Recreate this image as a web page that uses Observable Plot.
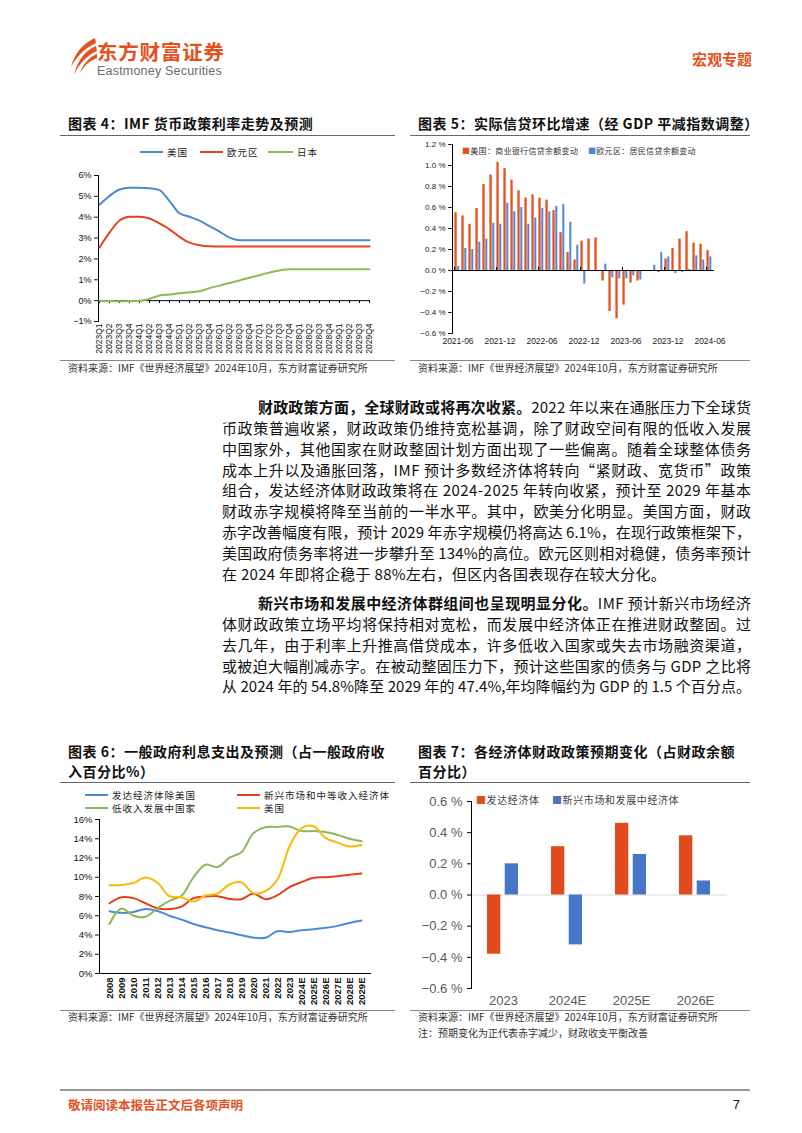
<!DOCTYPE html>
<html><head><meta charset="utf-8">
<script src="https://cdn.jsdelivr.net/npm/d3@7"></script>
<script src="https://cdn.jsdelivr.net/npm/@observablehq/plot@0.6"></script>
<style>
html,body{margin:0;padding:0;background:#fff;}
#page{position:relative;width:802px;height:1133px;overflow:hidden;background:#fff;font-family:"Noto Sans CJK SC","Liberation Sans",sans-serif;color:#000;}
.abs{position:absolute;white-space:nowrap;}
</style></head><body><div id="page"></div>
<script>
// ---------------- DATA ----------------
// Chart 4: IMF policy rate forecasts (%)
const quarters = ["2023Q1","2023Q2","2023Q3","2023Q4","2024Q1","2024Q2","2024Q3","2024Q4",
  "2025Q1","2025Q2","2025Q3","2025Q4","2026Q1","2026Q2","2026Q3","2026Q4",
  "2027Q1","2027Q2","2027Q3","2027Q4","2028Q1","2028Q2","2028Q3","2028Q4",
  "2029Q1","2029Q2","2029Q3","2029Q4"];
const series4 = ["美国","欧元区","日本"];
const usRate = [4.6,5.02,5.33,5.41,5.41,5.39,5.3,4.77,4.19,4.02,3.84,3.57,3.31,3.02,2.9,2.9,2.9,2.9,2.9,2.9,2.9,2.9,2.9,2.9,2.9,2.9,2.9,2.9];
const euroRate = [2.55,3.26,3.84,4.02,4.02,3.94,3.7,3.42,3.06,2.78,2.66,2.61,2.6,2.6,2.6,2.6,2.6,2.6,2.6,2.6,2.6,2.6,2.6,2.6,2.6,2.6,2.6,2.6];
const japanRate = [0,-0.02,-0.03,-0.02,0,0.08,0.25,0.3,0.35,0.4,0.45,0.6,0.72,0.85,0.97,1.1,1.22,1.35,1.45,1.5,1.5,1.5,1.5,1.5,1.5,1.5,1.5,1.5];
const yTicks4 = [-1,0,1,2,3,4,5,6];

// Chart 5: real credit m/m growth (%)
const months = ["2021-06","2021-07","2021-08","2021-09","2021-10","2021-11","2021-12",
  "2022-01","2022-02","2022-03","2022-04","2022-05","2022-06","2022-07","2022-08","2022-09","2022-10","2022-11","2022-12",
  "2023-01","2023-02","2023-03","2023-04","2023-05","2023-06","2023-07","2023-08","2023-09","2023-10","2023-11","2023-12",
  "2024-01","2024-02","2024-03","2024-04","2024-05","2024-06"];
const monthLabels = ["2021-06","2021-12","2022-06","2022-12","2023-06","2023-12","2024-06"];
const series5 = ["美国：商业银行信贷余额变动","欧元区：居民信贷余额变动"];
const usCredit = [0.55,0.52,0.44,0.59,0.82,0.91,1.03,0.97,0.86,0.76,0.69,0.72,0.69,0.67,0.57,0.36,0.17,0.10,0.28,0.30,0.31,-0.10,-0.39,-0.46,-0.33,-0.12,-0.10,-0.01,-0.01,-0.02,0.11,0.21,0.30,0.37,0.26,0.25,0.19];
const euCredit = [0.04,0.21,0.20,0.27,0.30,0.45,0.44,0.64,0.56,0.60,0.44,0.50,0.59,0.56,0.61,0.63,0.46,0.24,-0.13,0.00,-0.01,0.06,-0.07,-0.08,-0.08,-0.05,-0.09,-0.01,0.05,0.17,0.13,-0.03,-0.02,0.01,0.14,0.10,0.13];
const yTicks5 = [-0.6,-0.4,-0.2,0,0.2,0.4,0.6,0.8,1.0,1.2];

// Chart 6: general government interest expense (% of revenue)
const years6 = ["2008","2009","2010","2011","2012","2013","2014","2015","2016","2017","2018","2019","2020","2021","2022","2023","2024E","2025E","2026E","2027E","2028E","2029E"];
const series6 = ["发达经济体除美国","新兴市场和中等收入经济体","低收入发展中国家","美国"];
const advExUS = [6.47,6.3,6.4,6.7,6.5,6.0,5.6,5.15,4.8,4.5,4.25,3.97,3.72,3.72,4.4,4.3,4.5,4.6,4.75,4.95,5.25,5.5];
const emerging = [7.3,7.93,7.83,7.3,6.78,6.7,6.95,7.83,8.0,8.03,7.75,7.72,8.3,7.72,8.14,8.97,9.5,9.95,10.0,10.1,10.25,10.4];
const lowIncome = [5.15,6.75,6.0,5.9,6.78,7.55,8.07,10.0,11.3,11.06,12.03,12.6,14.6,15.2,15.23,15.27,14.8,14.8,14.7,14.4,14.0,13.74];
const usInterest = [9.18,9.2,9.4,9.98,9.43,8.03,7.93,7.48,8.1,8.3,9.25,9.46,8.35,8.56,9.77,13.2,15.1,15.3,14.1,13.6,13.2,13.35];
const yTicks6 = [0,2,4,6,8,10,12,14,16];

// Chart 7: expected fiscal stance change (% of balance)
const years7 = ["2023","2024E","2025E","2026E"];
const series7 = ["发达经济体","新兴市场和发展中经济体"];
const advFiscal = [-0.38,0.31,0.46,0.38];
const emFiscal = [0.20,-0.32,0.26,0.09];
const yTicks7 = [-0.6,-0.4,-0.2,0,0.2,0.4,0.6];

// ---------------- HELPERS ----------------
const NUM = '"Liberation Sans","Noto Sans CJK SC",sans-serif';
const CJK = '"Noto Sans CJK SC","Liberation Sans",sans-serif';
const page = document.getElementById("page");
function put(html, css) {
  const d = document.createElement("div");
  d.className = "abs"; d.innerHTML = html;
  Object.assign(d.style, css); page.appendChild(d); return d;
}
function hline(x1, x2, y, color, w) {
  put("", {left: x1+"px", top: y+"px", width: (x2-x1)+"px", height: "0px", borderTop: `${w||1}px solid ${color||"#666"}`});
}
function textAt(html, left, cy, size, extra, lh) {
  const L = size * (lh || 1.4);
  return put(html, Object.assign({left: left+"px", top: (cy - L/2)+"px", fontSize: size+"px", lineHeight: L+"px", fontFamily: CJK}, extra||{}));
}
function mount(svg, left, top) {
  svg.style.position = "absolute"; svg.style.left = left+"px"; svg.style.top = top+"px";
  svg.style.background = "transparent"; svg.style.maxWidth = "none";
  page.appendChild(svg);
}
function lineLegend(items, cy, size) {
  for (const it of items) {
    put("", {left: it.x+"px", top: (cy-1)+"px", width: it.w+"px", height: "0px", borderTop: `2px solid ${it.color}`});
    textAt(it.label, it.x + it.w + 4, cy, size, {color: "#222", letterSpacing: "1px"}, 1.1);
  }
}
const minus = v => (v < 0 ? "−" : "") + Math.abs(v);

// ---------------- HEADER ----------------
put(`<svg width="30" height="40" viewBox="0 0 30 40">
  <path d="M27 1 C16 6 7 15 3 30 C8 21 15 12 28 6 Z" fill="#E4511E"/>
  <path d="M28 9 C18 13 10 22 6 38 C11 27 18 19 29 14 Z" fill="#E4511E"/>
  <path d="M29 17 C22 20 15 26 12 36 C16 29 21 24 29 21 Z" fill="#E4511E"/>
</svg>`, {left: "68px", top: "37px"});
textAt("东方财富证券", 97, 51, 20.5, {fontWeight: "700", color: "#E4511E", letterSpacing: "0.8px"}, 1.0);
textAt("Eastmoney Securities", 97, 71.5, 12.5, {fontFamily: NUM, color: "#6b6b6b", letterSpacing: "0.2px"}, 1.0);
put("宏观专题", {right: (802-752)+"px", top: "49px", fontSize: "15px", lineHeight: "20px", fontWeight: "700", color: "#E4511E", fontFamily: CJK});

// ---------------- TITLES ----------------
const titleCss = {fontWeight: "700", letterSpacing: "0.5px", color: "#111"};
textAt("图表 4：IMF 货币政策利率走势及预测", 68, 124, 14, titleCss);
textAt("图表 5：实际信贷环比增速（经 GDP 平减指数调整）", 418, 124, 14, titleCss);
hline(60, 395, 135, "#666", 1.5);
hline(410, 750, 135, "#666", 1.5);

// ---------------- CHART 4 ----------------
const rows4 = [];
quarters.forEach((q, i) => {
  rows4.push({q, v: usRate[i], s: series4[0]});
  rows4.push({q, v: euroRate[i], s: series4[1]});
  rows4.push({q, v: japanRate[i], s: series4[2]});
});
const colors4 = ["#4A88D2", "#E2441D", "#8DBB4F"];
const c4 = Plot.plot({
  width: 340, height: 225, marginLeft: 38, marginRight: 30, marginTop: 35, marginBottom: 44,
  style: {fontFamily: NUM, color: "#111", background: "transparent"},
  x: {type: "point", domain: quarters, padding: 0},
  y: {domain: [-1, 6]},
  color: {domain: series4, range: colors4},
  marks: [
    Plot.axisY({ticks: yTicks4, tickFormat: d => minus(d) + "%", tickSize: 4, tickPadding: 3, fontSize: 9, label: null}),
    Plot.axisX({tickSize: 0, tickPadding: 2, tickRotate: -90, fontSize: 8.5, label: null}),
    Plot.ruleY([0], {stroke: "#000"}),
    Plot.ruleX(quarters, {x: d => d, y1: 0, y2: -0.14, stroke: "#000"}),
    Plot.frame({anchor: "left", stroke: "#000"}),
    Plot.line(rows4, {x: "q", y: "v", z: "s", stroke: "s", strokeWidth: 2, curve: "monotone-x"})
  ]
});
mount(c4, 60, 140);
lineLegend([
  {x: 140, w: 23, color: colors4[0], label: "美国"},
  {x: 200, w: 23, color: colors4[1], label: "欧元区"},
  {x: 268, w: 25, color: colors4[2], label: "日本"}
], 152, 9.5);

// ---------------- CHART 5 ----------------
const colors5 = ["#E5521F", "#4F87D4"];
const rowsUS5 = months.map((m, i) => ({m, v: usCredit[i]}));
const rowsEU5 = months.map((m, i) => ({m, v: euCredit[i]}));
const c5 = Plot.plot({
  width: 340, height: 215, marginLeft: 42, marginRight: 36, marginTop: 6, marginBottom: 20,
  style: {fontFamily: NUM, color: "#222", background: "transparent"},
  x: {type: "band", domain: months, padding: 0},
  y: {domain: [-0.6, 1.2]},
  marks: [
    Plot.barY(rowsUS5, {x: "m", y: "v", fill: colors5[0], insetLeft: 0.4, insetRight: 4.3}),
    Plot.barY(rowsEU5, {x: "m", y: "v", fill: colors5[1], insetLeft: 3.3, insetRight: 1.7}),
    Plot.axisY({ticks: yTicks5, tickFormat: d => (d < 0 ? "−" : "") + Math.abs(d).toFixed(1) + " %", tickSize: 4, tickPadding: 3, fontSize: 8, label: null}),
    Plot.axisX({ticks: monthLabels, tickSize: 0, tickPadding: 4, fontSize: 8.5, label: null}),
    Plot.ruleY([0], {stroke: "#000"}),
    Plot.ruleX(monthLabels, {x: d => d, y1: 0, y2: 0.03, dx: -3.5, stroke: "#000"}),
    Plot.frame({anchor: "left", stroke: "#000"})
  ]
});
mount(c5, 410, 138);
put(`<span style="color:${colors5[0]}">■</span>${series5[0]}`, {left: "462px", top: "145px", fontSize: "8px", lineHeight: "12px", letterSpacing: "0.3px", color: "#333", fontFamily: CJK});
put(`<span style="color:${colors5[1]}">■</span>${series5[1]}`, {left: "588px", top: "145px", fontSize: "8px", lineHeight: "12px", letterSpacing: "0.3px", color: "#333", fontFamily: CJK});

// source lines top
hline(60, 395, 360, "#888", 1);
hline(410, 750, 360, "#888", 1);
const srcText = "资料来源：IMF《世界经济展望》2024年10月，东方财富证券研究所";
textAt(srcText, 68, 368, 10, {color: "#333"}, 1.2);
textAt(srcText, 418, 368, 10, {color: "#333"}, 1.2);

// ---------------- BODY TEXT ----------------
const paraLeft = 222, paraRight = 751, paraSize = 15, lineGap = 20.8, indent = 36;
const para1 = [
  "<b>财政政策方面，全球财政或将再次收紧。</b>2022 年以来在通胀压力下全球货",
  "币政策普遍收紧，财政政策仍维持宽松基调，除了财政空间有限的低收入发展",
  "中国家外，其他国家在财政整固计划方面出现了一些偏离。随着全球整体债务",
  "成本上升以及通胀回落，IMF 预计多数经济体将转向“紧财政、宽货币”政策",
  "组合，发达经济体财政政策将在 2024-2025 年转向收紧，预计至 2029 年基本",
  "财政赤字规模将降至当前的一半水平。其中，欧美分化明显。美国方面，财政",
  "赤字改善幅度有限，预计 2029 年赤字规模仍将高达 6.1%，在现行政策框架下，",
  "美国政府债务率将进一步攀升至 134%的高位。欧元区则相对稳健，债务率预计",
  "在 2024 年即将企稳于 88%左右，但区内各国表现存在较大分化。"
];
const para2 = [
  "<b>新兴市场和发展中经济体群组间也呈现明显分化。</b>IMF 预计新兴市场经济",
  "体财政政策立场平均将保持相对宽松，而发展中经济体正在推进财政整固。过",
  "去几年，由于利率上升推高借贷成本，许多低收入国家或失去市场融资渠道，",
  "或被迫大幅削减赤字。在被动整固压力下，预计这些国家的债务与 GDP 之比将",
  "从 2024 年的 54.8%降至 2029 年的 47.4%,年均降幅约为 GDP 的 1.5 个百分点。"
];
function bodyLine(html, first, cy, justify) {
  const left = first ? paraLeft + indent : paraLeft;
  const width = paraRight - left;
  const d = textAt(html, left, cy, paraSize, {color: "#111"}, 1.3);
  if (justify) {
    const natural = d.getBoundingClientRect().width;
    const n = d.textContent.length;
    d.style.letterSpacing = ((width - natural) / (n - 1)) + "px";
  } else {
    d.style.letterSpacing = "0.3px";
  }
}
para1.forEach((h, i) => bodyLine(h, i === 0, 407 + i*lineGap, i < para1.length - 1));
para2.forEach((h, i) => bodyLine(h, i === 0, 603 + i*lineGap, true));

// ---------------- TITLES 6 & 7 ----------------
textAt("图表 6：一般政府利息支出及预测（占一般政府收", 68, 752, 14, titleCss);
textAt("入百分比%）", 68, 772, 14, titleCss);
textAt("图表 7：各经济体财政政策预期变化（占财政余额", 418, 752, 14, titleCss);
textAt("百分比）", 418, 772, 14, titleCss);
hline(60, 395, 782, "#666", 1.5);
hline(410, 750, 782, "#666", 1.5);

// ---------------- CHART 6 ----------------
const colors6 = ["#4A8BDA", "#E2411B", "#8BB955", "#F7BA0B"];
const vals6 = [advExUS, emerging, lowIncome, usInterest];
const rows6 = [];
series6.forEach((s, k) => years6.forEach((y, i) => rows6.push({y, v: vals6[k][i], s})));
const c6 = Plot.plot({
  width: 340, height: 202, marginLeft: 39, marginRight: 30, marginTop: 9, marginBottom: 39,
  style: {fontFamily: NUM, color: "#111", background: "transparent"},
  x: {type: "point", domain: years6, padding: 0.5},
  y: {domain: [0, 16]},
  color: {domain: series6, range: colors6},
  marks: [
    Plot.axisY({ticks: yTicks6, tickFormat: d => d + "%", tickSize: 4, tickPadding: 3, fontSize: 9.5, label: null}),
    Plot.axisX({tickSize: 0, tickPadding: 4, tickRotate: -90, fontSize: 9.5, fontWeight: "bold", label: null}),
    Plot.frame({anchor: "left", stroke: "#000"}),
    Plot.frame({anchor: "bottom", stroke: "#000"}),
    Plot.line(rows6, {x: "y", y: "v", z: "s", stroke: "s", strokeWidth: 2, curve: "catmull-rom"})
  ]
});
mount(c6, 60, 810);
lineLegend([
  {x: 85, w: 23, color: colors6[0], label: series6[0]},
  {x: 237, w: 23, color: colors6[1], label: series6[1]}
], 795, 9.5);
lineLegend([
  {x: 85, w: 23, color: colors6[2], label: series6[2]},
  {x: 237, w: 23, color: colors6[3], label: series6[3]}
], 808, 9.5);

// ---------------- CHART 7 ----------------
const colors7 = ["#E14A1C", "#4876C6"];
const rowsAdv7 = years7.map((y, i) => ({y, v: advFiscal[i]}));
const rowsEm7 = years7.map((y, i) => ({y, v: emFiscal[i]}));
const c7 = Plot.plot({
  width: 340, height: 225, marginLeft: 61, marginRight: 23, marginTop: 11, marginBottom: 27,
  style: {fontFamily: NUM, color: "#595959", background: "transparent"},
  x: {type: "band", domain: years7, padding: 0},
  y: {domain: [-0.6, 0.6]},
  marks: [
    Plot.ruleY([0], {stroke: "#d9d9d9", strokeWidth: 1}),
    Plot.barY(rowsAdv7, {x: "y", y: "v", fill: colors7[0], insetLeft: 16, insetRight: 34.7}),
    Plot.barY(rowsEm7, {x: "y", y: "v", fill: colors7[1], insetLeft: 33.7, insetRight: 17}),
    Plot.axisY({ticks: yTicks7, tickFormat: d => (d < 0 ? "−" : "") + Math.abs(d).toFixed(1) + " %", tickSize: 4, tickPadding: 5, fontSize: 13, stroke: "#000", label: null}),
    Plot.axisX({tickSize: 0, tickPadding: 7, fontSize: 13, label: null}),
    Plot.frame({anchor: "left", stroke: "#000"})
  ]
});
mount(c7, 410, 790);
put(`<span style="color:${colors7[0]}">■</span>${series7[0]}`, {left: "476px", top: "792px", fontSize: "10px", lineHeight: "16px", letterSpacing: "0.6px", color: "#444", fontFamily: CJK});
put(`<span style="color:${colors7[1]}">■</span>${series7[1]}`, {left: "552px", top: "792px", fontSize: "10px", lineHeight: "16px", letterSpacing: "0.6px", color: "#444", fontFamily: CJK});

// sources bottom
hline(60, 395, 1010, "#888", 1);
hline(410, 750, 1010, "#888", 1);
textAt(srcText, 68, 1017, 10, {color: "#333"}, 1.2);
textAt(srcText, 418, 1017, 10, {color: "#333"}, 1.2);
textAt("注：预期变化为正代表赤字减少，财政收支平衡改善", 418, 1033, 10, {color: "#333"}, 1.2);

// ---------------- FOOTER ----------------
hline(60, 750, 1089, "#999", 2);
textAt("敬请阅读本报告正文后各项声明", 68, 1105, 12.5, {fontWeight: "700", color: "#E4511E"});
put("7", {right: "62px", top: "1096px", fontSize: "13px", lineHeight: "18px", fontFamily: NUM, color: "#111"});
</script></body></html>
